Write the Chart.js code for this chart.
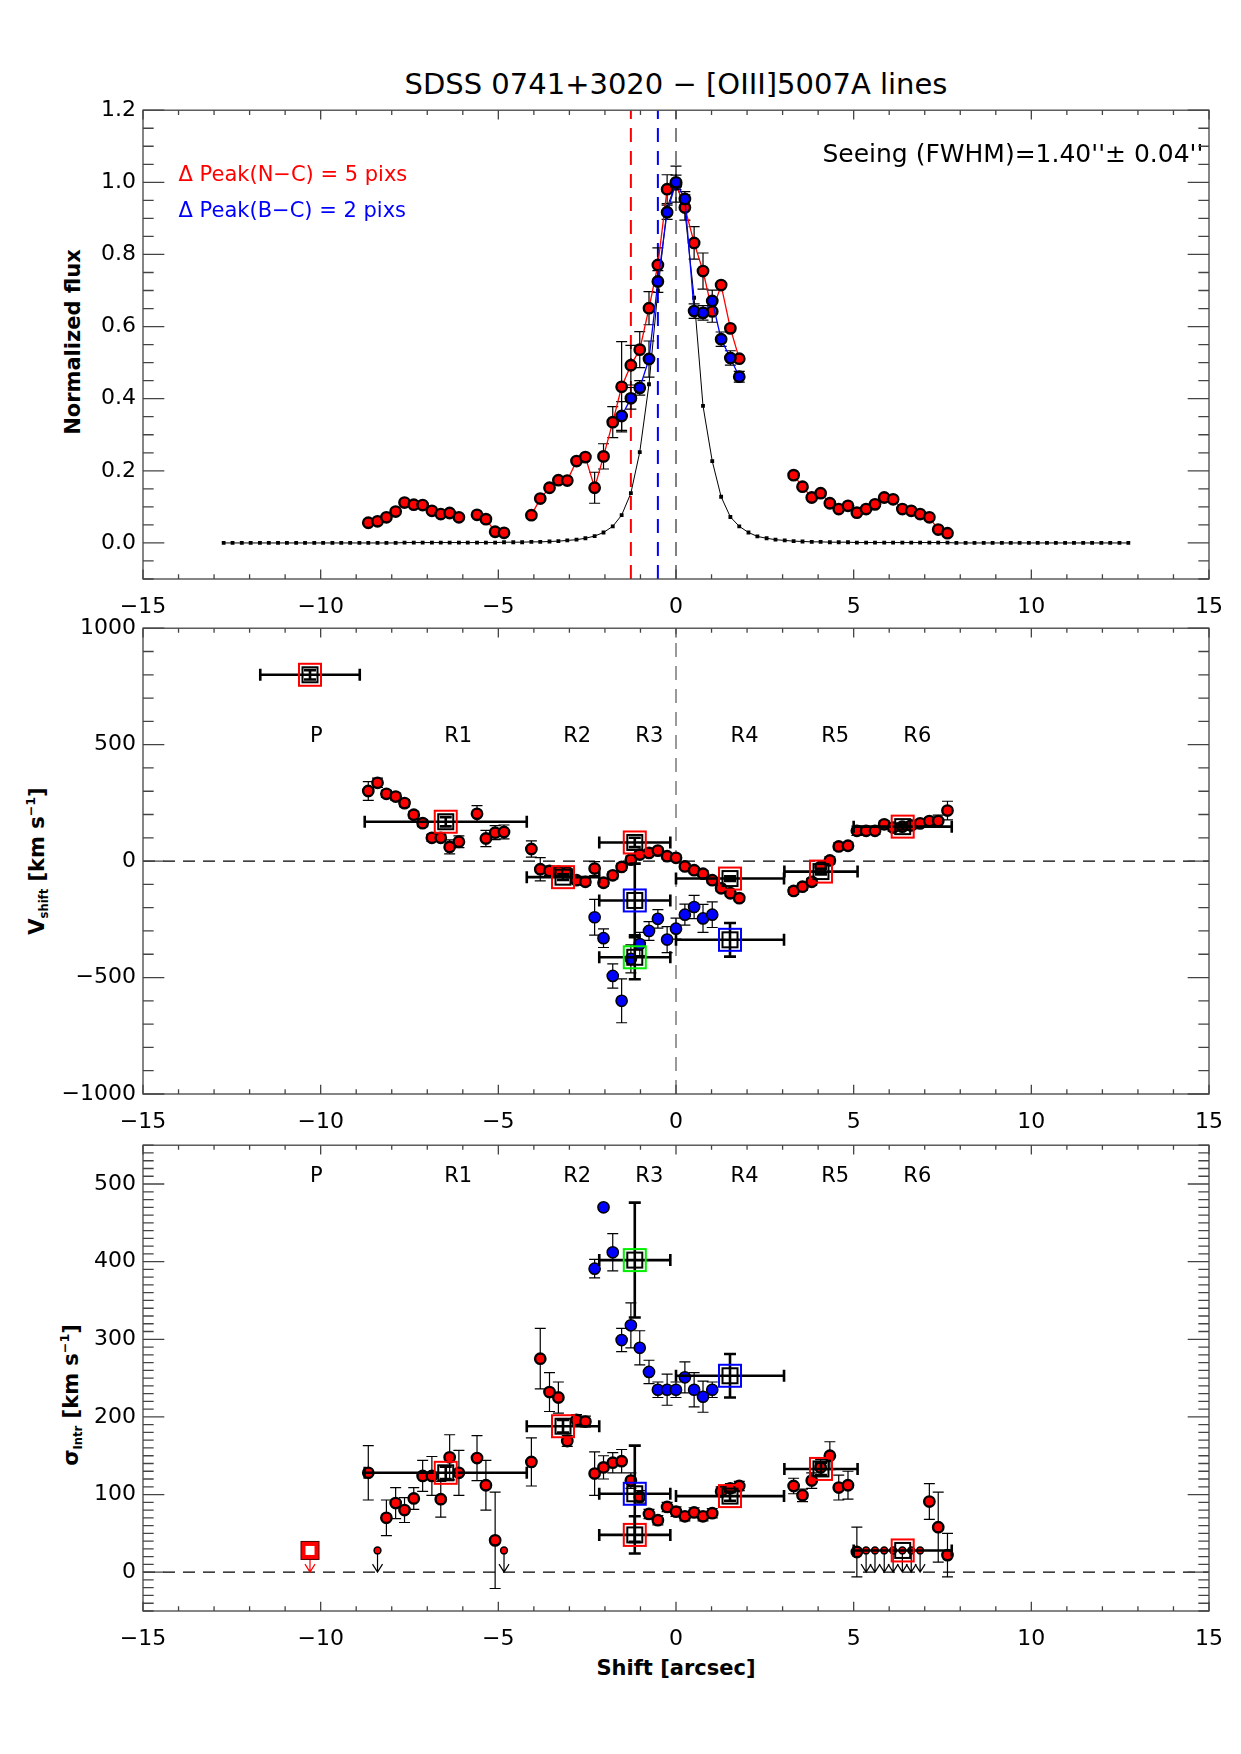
<!DOCTYPE html>
<html>
<head>
<meta charset="utf-8">
<script src="https://cdn.jsdelivr.net/npm/chart.js@4.4.1/dist/chart.umd.min.js"></script>
<style>
  body { margin:0; background:#fff; width:1241px; height:1754px; position:relative; overflow:hidden; font-family:"DejaVu Sans", sans-serif; }
  canvas { position:absolute; left:0; }
  .txt { position:absolute; white-space:nowrap; color:#000; }
  .ytitle { transform:translate(-50%,-50%) rotate(-90deg); font-weight:bold; font-size:21px; }
  .ytitle sub { font-size:55%; vertical-align:-0.35em; }
  .ytitle sup { font-size:60%; vertical-align:0.7em; }
</style>
</head>
<body>
<div class="txt" id="title" style="left:143px;width:1066px;top:67px;text-align:center;font-size:29px;">SDSS 0741+3020 &minus; [OIII]5007A lines</div>
<div class="txt ytitle" style="left:73px;top:342px;">Normalized flux</div>
<div class="txt ytitle" style="left:37px;top:861px;">V<sub>shift</sub> [km s<sup>&minus;1</sup>]</div>
<div class="txt ytitle" style="left:71px;top:1395px;">&sigma;<sub>Intr</sub> [km s<sup>&minus;1</sup>]</div>
<div class="txt" style="left:676px;top:1668px;transform:translate(-50%,-50%);font-weight:bold;font-size:21px;">Shift [arcsec]</div>

<canvas id="flux" width="1241" height="534" style="top:90px"></canvas>
<canvas id="vel" width="1241" height="531" style="top:608px"></canvas>
<canvas id="sig" width="1241" height="531" style="top:1125px"></canvas>

<script>
// ===== data =====
const xTicks = [-15, -10, -5, 0, 5, 10, 15];
const fluxTicks = [0, 0.2, 0.4, 0.6, 0.8, 1.0, 1.2];
const velTicks = [-1000, -500, 0, 500, 1000];
const sigTicks = [0, 100, 200, 300, 400, 500];

// seeing profile (black squares)
const psfX = [-12.73,-12.48,-12.22,-11.97,-11.71,-11.46,-11.20,-10.95,-10.69,-10.44,-10.18,-9.93,-9.67,-9.42,-9.17,-8.91,-8.66,-8.40,-8.15,-7.89,
  -7.64,-7.38,-7.13,-6.87,-6.62,-6.37,-6.11,-5.86,-5.60,-5.35,-5.09,-4.84,-4.58,-4.33,-4.07,-3.82,-3.56,-3.31,-3.06,-2.80,
  -2.55,-2.29,-2.04,-1.78,-1.53,-1.27,-1.02,-0.76,-0.51,-0.25,0.00,0.25,0.51,0.76,1.02,1.27,1.53,1.78,2.04,2.29,
  2.55,2.80,3.06,3.31,3.56,3.82,4.07,4.33,4.58,4.84,5.09,5.35,5.60,5.86,6.11,6.37,6.62,6.87,7.13,7.38,
  7.64,7.89,8.15,8.40,8.66,8.91,9.17,9.42,9.67,9.93,10.18,10.44,10.69,10.95,11.20,11.46,11.71,11.97,12.22,12.48,12.73];
const psfY = [0,0,0,0,0,0,0,0,0,0,0,0,0,0,0,0,0,0,0,0,
  0.001,0.001,0.001,0.001,0.001,0.001,0.001,0.001,0.001,0.001,0.001,0.002,0.002,0.002,0.003,0.003,0.004,0.005,0.007,0.009,
  0.013,0.019,0.029,0.046,0.077,0.138,0.252,0.44,0.70,0.93,1.0,0.92,0.68,0.38,0.227,0.128,0.072,0.046,0.029,0.018,
  0.013,0.009,0.007,0.005,0.004,0.003,0.003,0.002,0.002,0.002,0.001,0.001,0.001,0.001,0.001,0.001,0.001,0.001,0.001,0.001,
  0.001,0,0,0,0,0,0,0,0,0,0,0,0,0,0,0,0,0,0,0,0];

// narrow component (red) positions, arcsec
const narrowX = [-8.66,-8.40,-8.15,-7.89,-7.64,-7.38,-7.13,-6.87,-6.62,-6.37,-6.11,
  -5.60,-5.35,-5.09,-4.84,
  -4.07,-3.82,-3.56,-3.31,-3.06,-2.80,-2.55,-2.29,-2.04,-1.78,-1.53,-1.27,-1.02,-0.76,-0.51,-0.25,0.00,0.25,0.51,0.76,1.02,1.27,1.53,1.78,
  3.31,3.56,3.82,4.07,4.33,4.58,4.84,5.09,5.35,5.60,5.86,6.11,6.37,6.62,6.87,7.13,7.38,7.64];
const fluxNarrow = [0.056,0.060,0.071,0.087,0.112,0.106,0.105,0.089,0.080,0.083,0.071,
  0.078,0.066,0.031,0.028,
  0.077,0.123,0.153,0.174,0.173,0.227,0.238,0.153,0.240,0.335,0.433,0.493,0.536,0.651,0.771,0.981,0.995,0.930,0.832,0.754,0.642,0.715,0.595,0.511,
  0.188,0.156,0.126,0.138,0.110,0.094,0.103,0.084,0.094,0.107,0.126,0.121,0.094,0.089,0.080,0.071,0.037,0.027];
const fluxNarrowErr = [0,0,0,0,0,0,0,0,0,0,0,
  0,0,0,0,
  0,0,0,0,0,0,0,0.043,0.035,0.043,0.125,0.055,0.05,0.046,0.047,0.04,0.05,0.035,0.045,0.05,0.03,0,0,0,
  0,0,0,0,0,0,0,0,0,0,0,0,0,0,0,0,0,0];

// broad component (blue)
const fluxBroadX = [-1.53,-1.27,-1.02,-0.76,-0.51,-0.25,0.00,0.25,0.51,0.76,1.02,1.27,1.53,1.78];
const fluxBroad = [0.352,0.401,0.430,0.510,0.725,0.917,1.0,0.954,0.643,0.638,0.671,0.565,0.513,0.461];
const fluxBroadErr = [0.04,0.03,0.02,0.05,0.03,0.02,0.02,0.02,0.02,0.02,0.03,0.02,0.02,0.015];
const peakShiftN = -1.27;   // 5 pixs
const peakShiftB = -0.51;   // 2 pixs

const velNarrow = [301,336,289,277,249,199,163,100,100,61,83,
  203,97,122,125,
  52,-35,-42,-45,-48,-82,-89,-32,-93,-61,-25,6,28,35,45,21,14,-23,-39,-54,-82,-117,-138,-159,
  -128,-110,-89,-25,3,63,66,130,130,130,158,144,148,153,162,172,172,217];
const velNarrowErr = [40,20,15,15,15,15,15,15,15,30,25,
  35,35,30,30,
  35,50,20,15,15,15,15,30,15,15,15,15,12,12,12,12,12,12,12,12,12,12,12,12,
  15,15,15,15,15,15,15,20,15,15,15,15,15,15,15,15,25,40];
const broadX = [-2.29,-2.04,-1.78,-1.53,-1.27,-1.02,-0.76,-0.51,-0.25,0.00,0.25,0.51,0.76,1.02];
const velBroad = [-241,-331,-493,-600,-420,-356,-300,-248,-337,-290,-230,-197,-246,-230];
const velBroadErr = [77,40,52,94,60,50,40,40,56,45,45,50,60,55];

const sigNarrow = [128,28,70,89,80,95,124,124,94,148,128,
  147,112,41,28,
  142,275,232,225,169,196,194,127,135,141,143,118,97,75,67,84,78,72,77,72,76,104,108,111,
  111,99,118,135,150,109,112,26,28,28,28,28,28,28,28,91,58,22];
const sigNarrowErr = [35,0,23,20,16,14,20,25,23,29,29,
  29,32,62,0,
  31,39,25,20,7,7,7,28,15,13,15,10,8,6,6,6,6,6,6,6,6,6,6,6,
  10,8,10,10,18,16,18,32,0,0,0,0,0,0,0,23,45,28];
const sigNarrowLimit = [0,1,0,0,0,0,0,0,0,0,0,
  0,0,0,1,
  0,0,0,0,0,0,0,0,0,0,0,0,0,0,0,0,0,0,0,0,0,0,0,0,
  0,0,0,0,0,0,0,0,1,1,1,1,1,1,1,0,0,0];
const sigBroad = [391,470,412,299,318,289,258,235,235,235,251,235,226,235];
const sigBroadErr = [12,0,24,15,29,22,15,10,20,10,20,22,20,10];

// integrated regions
const regionNames = ['P','R1','R2','R3','R4','R5','R6'];
const regionNameX = [-10.12,-6.13,-2.78,-0.75,1.93,4.48,6.79];
const boxX    = [-10.3,-6.48,-3.18,-1.16,-1.16,-1.16,1.52,1.52,4.08,6.38];
const boxComp = ['N','N','N','N','B','G','N','B','N','N'];
const velBoxXerr = [1.4,2.28,1.02,1.0,1.0,1.0,1.52,1.52,1.03,1.38];
const velBoxY    = [800,169,-69,80,-169,-413,-75,-338,-45,148];
const velBoxYerr = [20,20,12,20,158,94,10,72,12,12];
const sigBoxXerr = [0,2.28,1.02,1.0,1.0,1.0,1.52,1.52,1.03,1.38];
const sigBoxY    = [28,128,188,48,101,402,98,253,133,28];
const sigBoxYerr = [0,8,8,24,62,74,6,28,8,0];
const sigBoxLimit = [1,0,0,0,0,0,0,0,0,0];

// ===== drawing helpers =====
const RED = '#ff0000', BLUE = '#0000ff', GREEN = '#00ee00';
const compColor = { N: RED, B: BLUE, G: GREEN };
const FONT = '"DejaVu Sans", sans-serif';
const minus = s => String(s).replace('-', '\u2212');
const pts = (xs, ys) => xs.map((x, i) => ({ x, y: ys[i] }));

function sx(c, v) { return c.scales.x.getPixelForValue(v); }
function sy(c, v) { return c.scales.y.getPixelForValue(v); }

function clipArea(c) {
  const a = c.chartArea;
  c.ctx.beginPath(); c.ctx.rect(a.left, a.top, a.right - a.left, a.bottom - a.top); c.ctx.clip();
}

function dashV(c, xv, color, lw, dash) {
  const ctx = c.ctx, a = c.chartArea, X = sx(c, xv);
  ctx.save(); clipArea(c);
  ctx.strokeStyle = color; ctx.lineWidth = lw; ctx.setLineDash(dash);
  ctx.beginPath(); ctx.moveTo(X, a.bottom); ctx.lineTo(X, a.top); ctx.stroke();
  ctx.restore();
}
function dashH(c, yv, color, lw, dash) {
  const ctx = c.ctx, a = c.chartArea, Y = sy(c, yv);
  ctx.save(); clipArea(c);
  ctx.strokeStyle = color; ctx.lineWidth = lw; ctx.setLineDash(dash);
  ctx.beginPath(); ctx.moveTo(a.left, Y); ctx.lineTo(a.right, Y); ctx.stroke();
  ctx.restore();
}

function errBars(c, xs, ys, es, cap, lw) {
  const ctx = c.ctx;
  ctx.save(); ctx.strokeStyle = '#000'; ctx.lineWidth = lw; ctx.beginPath();
  xs.forEach((xv, i) => {
    if (!es[i]) return;
    const X = sx(c, xv), Y1 = sy(c, ys[i] + es[i]), Y2 = sy(c, ys[i] - es[i]);
    ctx.moveTo(X, Y1); ctx.lineTo(X, Y2);
    ctx.moveTo(X - cap, Y1); ctx.lineTo(X + cap, Y1);
    ctx.moveTo(X - cap, Y2); ctx.lineTo(X + cap, Y2);
  });
  ctx.stroke(); ctx.restore();
}

function arrowDown(c, xv, yv, color) {
  const ctx = c.ctx, X = sx(c, xv), Y = sy(c, yv), Y0 = sy(c, 0);
  ctx.save(); ctx.strokeStyle = color; ctx.lineWidth = 1.2; ctx.beginPath();
  ctx.moveTo(X, Y); ctx.lineTo(X, Y0);
  ctx.moveTo(X - 5, Y0 - 8); ctx.lineTo(X, Y0); ctx.lineTo(X + 5, Y0 - 8);
  ctx.stroke(); ctx.restore();
}

function regionBoxes(c, ys, xe, ye, lims) {
  const ctx = c.ctx;
  boxX.forEach((xv, i) => {
    const X = sx(c, xv), Y = sy(c, ys[i]), col = compColor[boxComp[i]];
    ctx.save();
    if (lims && lims[i]) {
      arrowDown(c, xv, ys[i], col);
      ctx.fillStyle = col; ctx.fillRect(X - 9, Y - 9, 18, 18);
      ctx.fillStyle = '#fff'; ctx.fillRect(X - 4.5, Y - 4.5, 9, 9);
      ctx.strokeStyle = '#400'; ctx.lineWidth = 1; ctx.strokeRect(X - 9, Y - 9, 18, 18);
      ctx.restore(); return;
    }
    ctx.strokeStyle = '#000'; ctx.lineWidth = 2.6; ctx.beginPath();
    if (xe[i]) {
      const X1 = sx(c, xv - xe[i]), X2 = sx(c, xv + xe[i]);
      ctx.moveTo(X1, Y); ctx.lineTo(X2, Y);
      ctx.moveTo(X1, Y - 6); ctx.lineTo(X1, Y + 6);
      ctx.moveTo(X2, Y - 6); ctx.lineTo(X2, Y + 6);
    }
    if (ye[i]) {
      const Y1 = sy(c, ys[i] + ye[i]), Y2 = sy(c, ys[i] - ye[i]);
      ctx.moveTo(X, Y1); ctx.lineTo(X, Y2);
      ctx.moveTo(X - 6, Y1); ctx.lineTo(X + 6, Y1);
      ctx.moveTo(X - 6, Y2); ctx.lineTo(X + 6, Y2);
    }
    ctx.stroke();
    ctx.lineWidth = 2; ctx.strokeRect(X - 7.5, Y - 7.5, 15, 15);
    ctx.strokeStyle = col; ctx.lineWidth = 2; ctx.strokeRect(X - 11, Y - 11, 22, 22);
    ctx.restore();
  });
}

function regionLabels(c, yv) {
  const ctx = c.ctx;
  ctx.save(); ctx.fillStyle = '#000'; ctx.font = '21px ' + FONT;
  ctx.textAlign = 'center'; ctx.textBaseline = 'middle';
  regionNames.forEach((n, i) => ctx.fillText(n, sx(c, regionNameX[i]), sy(c, yv)));
  ctx.restore();
}

// IDL-like frame: box with inward ticks on all four sides
function frame(minorX, minorY) {
  return {
    id: 'frame',
    afterDraw(c) {
      const ctx = c.ctx, a = c.chartArea, xs = c.scales.x, ys = c.scales.y;
      const W = a.right - a.left, H = a.bottom - a.top;
      const xl = 0.02 * H, yl = 0.02 * W;
      ctx.save(); ctx.strokeStyle = '#444'; ctx.lineWidth = 1.3;
      ctx.strokeRect(a.left, a.top, W, H);
      ctx.beginPath();
      const isMajor = (s, v) => s.ticks.some(t => Math.abs(t.value - v) < 1e-6);
      for (let v = Math.ceil(xs.min / minorX - 1e-6) * minorX; v <= xs.max + 1e-6; v += minorX) {
        const p = xs.getPixelForValue(v), l = isMajor(xs, Math.round(v * 1e6) / 1e6) ? xl : xl / 2;
        ctx.moveTo(p, a.bottom); ctx.lineTo(p, a.bottom - l);
        ctx.moveTo(p, a.top); ctx.lineTo(p, a.top + l);
      }
      for (let k = Math.ceil(ys.min / minorY - 1e-6); k * minorY <= ys.max + 1e-6; k++) {
        const v = Math.round(k * minorY * 1e6) / 1e6;
        const p = ys.getPixelForValue(v), l = isMajor(ys, v) ? yl : yl / 2;
        ctx.moveTo(a.left, p); ctx.lineTo(a.left + l, p);
        ctx.moveTo(a.right, p); ctx.lineTo(a.right - l, p);
      }
      ctx.stroke(); ctx.restore();
    }
  };
}

function options(yMin, yMax, yTicks, yFmt) {
  const tickFont = { family: 'DejaVu Sans', size: 22 };
  return {
    responsive: false, animation: false, devicePixelRatio: 1,
    layout: { padding: { left: 0, right: 32, top: 16, bottom: 0 } },
    plugins: { legend: { display: false }, tooltip: { enabled: false } },
    scales: {
      x: { type: 'linear', min: -15, max: 15,
        grid: { display: false, drawTicks: false }, border: { display: false },
        afterBuildTicks: s => { s.ticks = xTicks.map(v => ({ value: v })); },
        afterFit: s => { s.height = 45; },
        ticks: { color: '#000', font: tickFont, padding: 15, maxRotation: 0, autoSkip: false, callback: v => minus(v) } },
      y: { type: 'linear', min: yMin, max: yMax,
        grid: { display: false, drawTicks: false }, border: { display: false },
        afterBuildTicks: s => { s.ticks = yTicks.map(v => ({ value: v })); },
        afterFit: s => { s.width = 143; },
        ticks: { color: '#000', font: tickFont, padding: 7, autoSkip: false, callback: v => minus(yFmt(v)) } }
    }
  };
}

const gapSegment = col => ({ borderColor: s => (s.p1.parsed.x - s.p0.parsed.x > 0.3 ? 'rgba(0,0,0,0)' : col) });

// ===== panel 1: normalized flux =====
new Chart(document.getElementById('flux'), {
  type: 'scatter',
  data: { datasets: [
    { data: pts(fluxBroadX, fluxBroad), showLine: true, borderColor: BLUE, borderWidth: 1.3,
      pointBackgroundColor: BLUE, pointBorderColor: '#000', pointBorderWidth: 2.4, pointRadius: 5.2, order: 0 },
    { data: pts(narrowX, fluxNarrow), showLine: true, borderColor: RED, borderWidth: 1.3, segment: gapSegment(RED),
      pointBackgroundColor: RED, pointBorderColor: '#000', pointBorderWidth: 2.4, pointRadius: 5.2, order: 1 },
    { data: pts(psfX, psfY), showLine: true, borderColor: '#000', borderWidth: 1,
      pointStyle: 'rect', pointBackgroundColor: '#000', pointBorderWidth: 0, pointRadius: 2.7, order: 2 }
  ] },
  options: options(-0.1, 1.2, fluxTicks, v => v.toFixed(1)),
  plugins: [{
    id: 'fluxExtras',
    beforeDatasetsDraw(c) {
      dashV(c, peakShiftN, RED, 2, [14, 9]);
      dashV(c, peakShiftB, BLUE, 2, [14, 9]);
      dashV(c, 0, '#808080', 2, [14, 9]);
      errBars(c, narrowX, fluxNarrow, fluxNarrowErr, 5.5, 1.2);
      errBars(c, fluxBroadX, fluxBroad, fluxBroadErr, 5.5, 1.2);
    },
    afterDatasetsDraw(c) {
      const ctx = c.ctx;
      ctx.save(); ctx.textBaseline = 'middle';
      ctx.font = '21px ' + FONT; ctx.textAlign = 'left';
      ctx.fillStyle = RED;  ctx.fillText('\u0394 Peak(N\u2212C) = 5 pixs', sx(c, -14.0), sy(c, 1.018));
      ctx.fillStyle = BLUE; ctx.fillText('\u0394 Peak(B\u2212C) = 2 pixs', sx(c, -14.0), sy(c, 0.919));
      ctx.font = '25px ' + FONT; ctx.textAlign = 'right'; ctx.fillStyle = '#000';
      ctx.fillText('Seeing (FWHM)=1.40\'\'\u00b1 0.04\'\'', sx(c, 14.84), sy(c, 1.073));
      ctx.restore();
    }
  }, frame(1, 0.05)]
});

// ===== panel 2: velocity shift =====
new Chart(document.getElementById('vel'), {
  type: 'scatter',
  data: { datasets: [
    { data: pts(broadX, velBroad), pointBackgroundColor: BLUE, pointBorderColor: '#000',
      pointBorderWidth: 1.5, pointRadius: 5.6, order: 0 },
    { data: pts(narrowX, velNarrow), pointBackgroundColor: RED, pointBorderColor: '#000',
      pointBorderWidth: 2.4, pointRadius: 5.2, order: 1 }
  ] },
  options: options(-1000, 1000, velTicks, v => v),
  plugins: [{
    id: 'velExtras',
    beforeDatasetsDraw(c) {
      dashH(c, 0, '#000', 1.2, [12, 8]);
      dashV(c, 0, '#808080', 1.6, [14, 9]);
      errBars(c, narrowX, velNarrow, velNarrowErr, 5.5, 1.2);
      errBars(c, broadX, velBroad, velBroadErr, 5.5, 1.2);
    },
    afterDatasetsDraw(c) {
      regionBoxes(c, velBoxY, velBoxXerr, velBoxYerr, null);
      regionLabels(c, 535);
    }
  }, frame(1, 100)]
});

// ===== panel 3: intrinsic dispersion =====
new Chart(document.getElementById('sig'), {
  type: 'scatter',
  data: { datasets: [
    { data: pts(broadX, sigBroad), pointBackgroundColor: BLUE, pointBorderColor: '#000',
      pointBorderWidth: 1.5, pointRadius: 5.6, order: 0 },
    { data: pts(narrowX, sigNarrow), pointBackgroundColor: RED, pointBorderColor: '#000',
      pointBorderWidth: ctx => (sigNarrowLimit[ctx.dataIndex] ? 1.5 : 2.4),
      pointRadius: ctx => (sigNarrowLimit[ctx.dataIndex] ? 3.4 : 5.2), order: 1 }
  ] },
  options: options(-50, 550, sigTicks, v => v),
  plugins: [{
    id: 'sigExtras',
    beforeDatasetsDraw(c) {
      dashH(c, 0, '#000', 1.2, [12, 8]);
      errBars(c, narrowX, sigNarrow, sigNarrowErr, 5.5, 1.2);
      errBars(c, broadX, sigBroad, sigBroadErr, 5.5, 1.2);
      narrowX.forEach((xv, i) => { if (sigNarrowLimit[i]) arrowDown(c, xv, sigNarrow[i], '#000'); });
    },
    afterDatasetsDraw(c) {
      regionBoxes(c, sigBoxY, sigBoxXerr, sigBoxYerr, sigBoxLimit);
      regionLabels(c, 510);
    }
  }, frame(1, 10)]
});
</script>
</body>
</html>
